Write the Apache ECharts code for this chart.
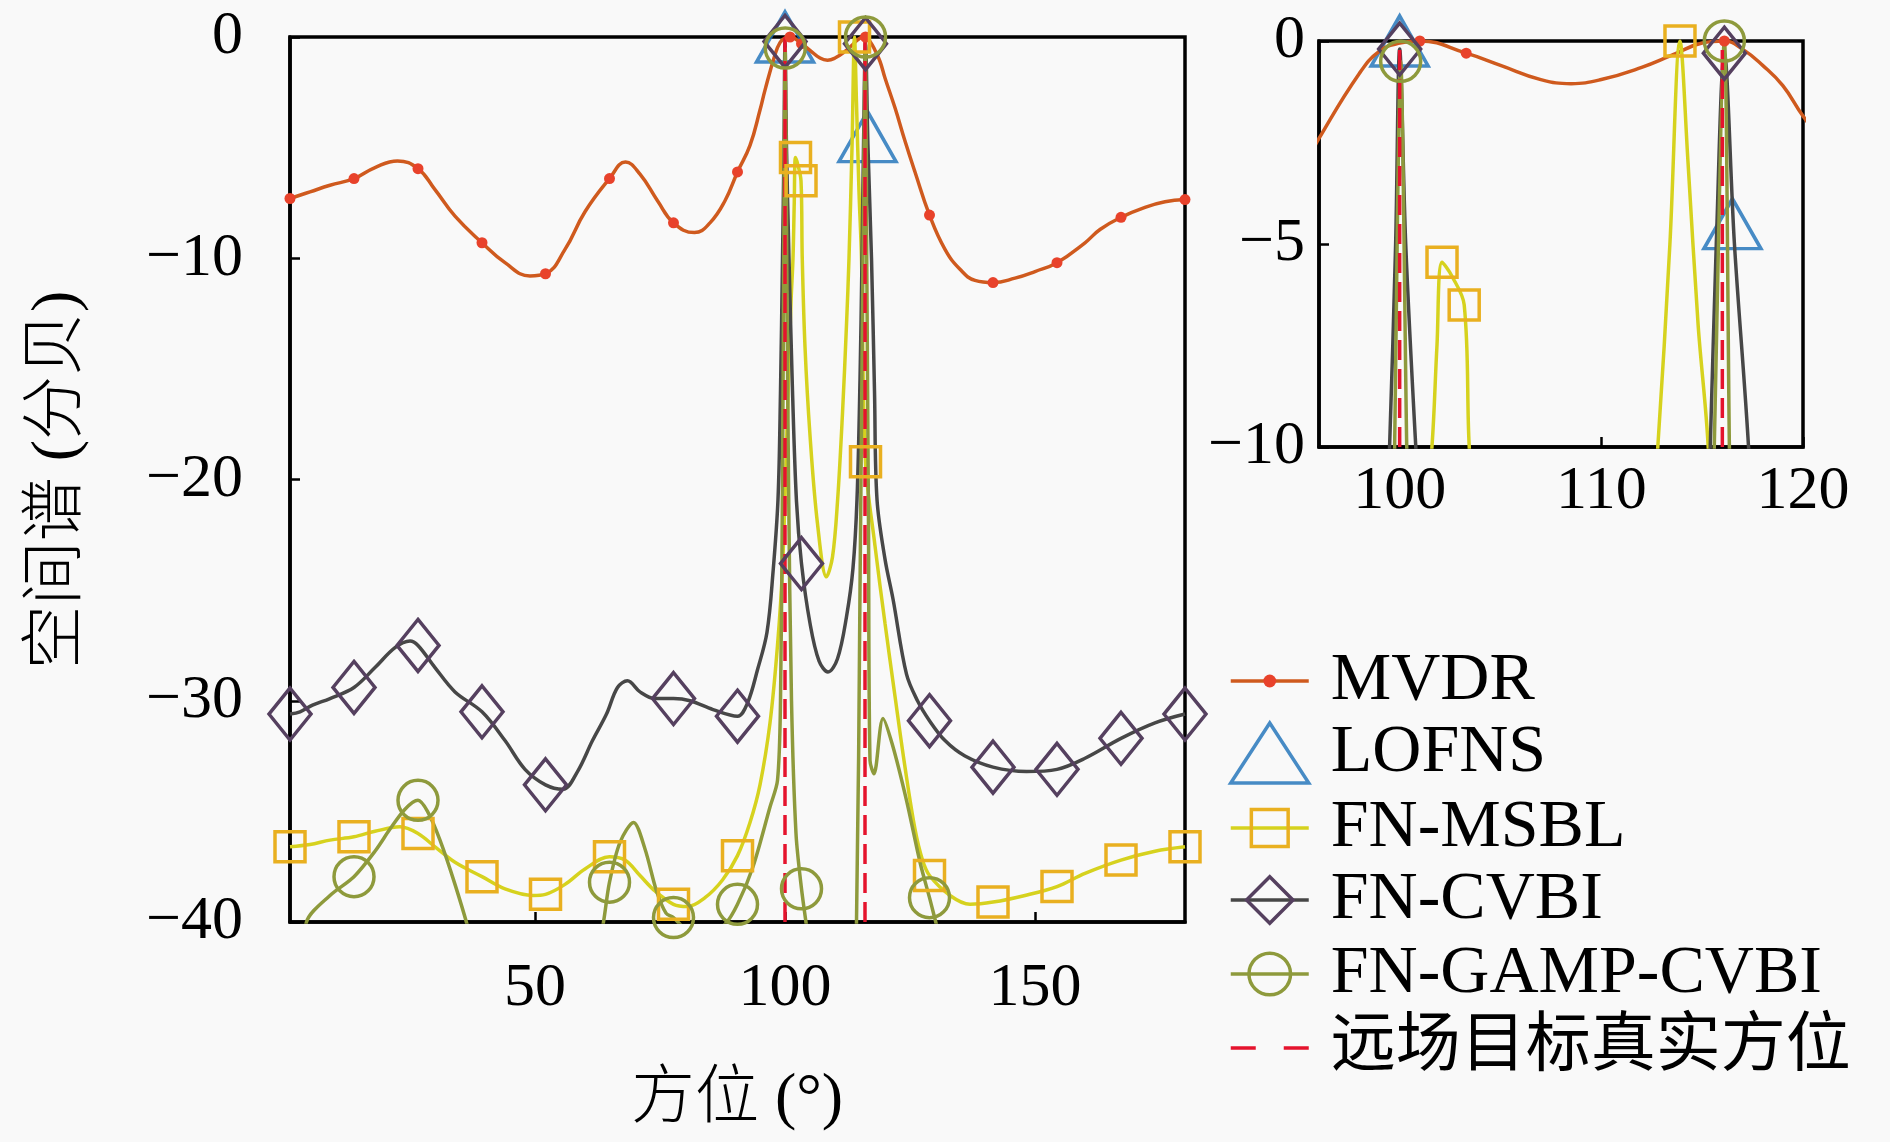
<!DOCTYPE html>
<html>
<head>
<meta charset="utf-8">
<script src="https://cdn.jsdelivr.net/npm/echarts@6/dist/echarts.min.js"></script>
<style>
  html, body { margin: 0; padding: 0; background: #f9f9f9; }
  #chart { width: 1890px; height: 1142px; }
</style>
</head>
<body>
<div id="chart"></div>
<script>
// azimuth (deg) / spatial spectrum (dB)
const mvdr = [
  [1, -7.3], [5, -7.0], [9, -6.7], [13.8, -6.4], [18, -5.9], [22.5, -5.6], [26.6, -5.95],
  [30, -6.9], [34, -8.1], [39.4, -9.3], [44, -10.2], [49, -10.8], [52.1, -10.7], [56, -9.6],
  [60, -7.9], [64.9, -6.4], [68.1, -5.65], [71, -6.2], [74.5, -7.4], [77.7, -8.4], [81.9, -8.84],
  [85, -8.4], [88, -7.4], [90.5, -6.1], [93, -4.9], [95, -3.3], [96, -2.4], [98, -0.8],
  [99, -0.25], [100, -0.05], [101, 0], [103.3, -0.3], [105, -0.6], [107, -0.95], [108.5, -1.05],
  [110, -0.95], [112, -0.65], [113.5, -0.35], [115, -0.05], [116.1, 0], [117, -0.2], [118, -0.6],
  [119, -1.1], [120, -1.85], [122, -3.2], [124, -4.7], [126, -6.1], [128.9, -8.05], [132, -9.6],
  [135, -10.5], [138, -11.0], [141.6, -11.1], [146, -10.9], [150, -10.6], [154.4, -10.2],
  [160, -9.3], [163, -8.7], [167.2, -8.15], [172, -7.7], [176, -7.45], [180, -7.35]
];
const lofns = [[100, 0], [116.5, -4.5]];
const msbl = [
  [1, -36.6], [5, -36.5], [9, -36.3], [13.8, -36.15], [18, -35.9], [23, -35.7], [26.6, -36.0],
  [30, -36.6], [34, -37.3], [39.4, -37.95], [44, -38.5], [49.6, -38.8], [52.1, -38.75], [56, -38.3],
  [60, -37.6], [64.9, -37.05], [68, -37.2], [71, -37.9], [74, -38.6], [77.7, -39.2], [80.5, -39.3],
  [84, -38.9], [87.5, -38.1], [90.5, -37.0], [93, -35.5], [95, -33.8], [97, -31], [98.5, -27.5],
  [99.5, -24], [100.5, -17], [101.2, -12], [101.6, -10], [101.85, -7.5], [102.1, -5.45],
  [102.6, -5.8], [103.2, -6.5], [103.45, -10], [104, -14], [105, -18], [106.5, -22], [108.3, -24.4],
  [109.5, -23.5], [110.5, -21], [111.5, -17], [112.3, -13], [112.8, -10], [113.4, -5], [113.9, 0],
  [114.3, -3], [114.8, -7], [115.3, -10], [116.1, -19.2], [118, -23], [120, -26.5], [122, -29.8],
  [124, -33], [126, -35.8], [127.5, -37.2], [128.9, -37.9], [133, -38.8], [137, -39.2],
  [141.6, -39.1], [148, -38.8], [154.4, -38.4], [160, -37.8], [167.2, -37.2], [174, -36.8], [180, -36.6]
];
const cvbi = [
  [1, -30.6], [3, -30.5], [5.5, -30.2], [9, -29.9], [13.8, -29.4], [18, -28.5], [22, -27.6],
  [25, -27.3], [26.6, -27.5], [30, -28.5], [34, -29.6], [39.4, -30.5], [44, -31.8], [48, -33.1],
  [52.1, -33.8], [55.6, -34.0], [58.5, -33.2], [61.5, -31.8], [64.3, -30.6], [66.5, -29.4],
  [68.5, -29.1], [71, -29.6], [74, -29.9], [77.7, -29.9], [81, -30.0], [85.6, -30.4], [90.5, -30.7],
  [92.5, -30.1], [94.5, -28.6], [96.4, -26.9], [97.6, -24.2], [98.6, -20.9], [99.1, -16],
  [99.5, -10], [99.8, -5], [100, -0.2], [100.3, -5], [100.8, -10], [101.5, -16], [102.3, -21],
  [103.3, -23.8], [105, -26.5], [106.8, -28.2], [108.6, -28.7], [110.5, -28.1], [112.3, -26.2],
  [113.6, -24], [114.4, -20.9], [115, -15.5], [115.4, -10], [115.7, -5], [116.1, -0.3],
  [116.6, -5], [117.3, -10], [117.9, -16], [118.4, -20.9], [120, -23.6], [121.6, -25.4],
  [124.3, -28.8], [126.5, -30.0], [128.9, -30.9], [132, -31.8], [136, -32.5], [141.6, -33.0],
  [148.3, -33.2], [154.4, -33.1], [160, -32.6], [167.2, -31.7], [174, -31.0], [180, -30.6]
];
const gamp = [
  [1, -45], [4.3, -40], [9, -38.8], [13.8, -37.95], [18, -36.8], [21, -35.8], [24, -34.9],
  [26.6, -34.5], [28.5, -35.0], [31, -36.3], [34, -38.3], [37, -40.6], [39.4, -43], [45, -49],
  [52.1, -50], [58, -46], [62, -42], [63.7, -40], [64.9, -38.2], [67, -36.4], [69.7, -35.5],
  [72, -36.7], [74.3, -38.6], [76.2, -39.6], [77.7, -39.8], [80, -40.3], [84, -40.6], [88, -40.1],
  [90.5, -39.2], [93.6, -37.5], [97, -34.8], [98.5, -33.6], [99.1, -30], [99.5, -20], [99.75, -10],
  [100.05, -0.5], [100.35, -10], [100.7, -20], [101.3, -30], [102.2, -36], [103.3, -38.5],
  [104.5, -40.5], [106, -43], [110, -45], [113.5, -42], [114.3, -40], [115, -25], [115.6, -10],
  [116.1, 0], [116.35, -10], [116.7, -22], [117, -32.7], [117.8, -33.3], [119.6, -30.8],
  [121.5, -32], [124.3, -34.5], [127, -37.3], [128.9, -38.9], [130.5, -40.3], [135, -44],
  [141.6, -47], [150, -48], [160, -47], [170, -46], [180, -45]
];
const trueAngles = [100, 116];

// where markers sit on each curve (main plot / zoomed inset)
const mvdrMarks = [1, 13.8, 26.6, 39.4, 52.1, 64.9, 77.7, 90.5, 101, 103.3, 116.1, 128.9, 141.6, 154.4, 167.2, 180];
const mvdrInsetMarks = [101, 103.3, 116.1];
const msblMarks = [1, 13.8, 26.6, 39.4, 52.1, 64.9, 77.7, 90.5, 102.1, 103.2, 113.9, 116.1, 128.9, 141.6, 154.4, 167.2, 180];
const msblInsetMarks = [102.1, 103.2, 113.9];
const cvbiMarks = [1, 13.8, 26.6, 39.4, 52.1, 64.9, 77.7, 90.5, 100, 103.3, 116.1, 128.9, 141.6, 154.4, 167.2, 180];
const cvbiInsetMarks = [100, 116.1];
const gampMarks = [1, 13.8, 26.6, 39.4, 52.1, 64.9, 77.7, 90.5, 100.05, 103.3, 116.1, 128.9, 141.6];
const gampInsetMarks = [100.05, 116.1];

const xTicks = [50, 100, 150];
const insetXTicks = [100, 110, 120];

const FONT = "'Liberation Serif', 'Noto Sans CJK SC', serif";
const LW = 3.5;
const minus = v => String(v).replace('-', '\u2212');

const mvdrStyle = { symbol: 'circle', symbolSize: 11, smooth: 0.45, line: '#cf5a1e', item: { color: '#e8422b' } };
const msblStyle = { symbol: 'rect', symbolSize: 30, smooth: 0.35, line: '#d6d21e', item: { color: 'rgba(0,0,0,0)', borderColor: '#e9b020', borderWidth: LW } };
const cvbiStyle = { symbol: 'diamond', symbolSize: [42, 52], smooth: 0.35, line: '#474747', item: { color: 'rgba(0,0,0,0)', borderColor: '#55405f', borderWidth: LW } };
const gampStyle = { symbol: 'circle', symbolSize: 40, smooth: 0.3, line: '#8e9a3c', item: { color: 'rgba(0,0,0,0)', borderColor: '#8e9a3c', borderWidth: LW } };

function curve(name, pts, marks, st, axis) {
  return {
    name, type: 'line', xAxisIndex: axis, yAxisIndex: axis,
    data: pts.map(p => marks.includes(p[0]) ? { value: p } : { value: p, symbol: 'none' }),
    symbol: st.symbol, symbolSize: st.symbolSize,
    showSymbol: true, showAllSymbol: true, smooth: st.smooth, clip: true,
    lineStyle: { color: st.line, width: LW },
    itemStyle: st.item,
    emphasis: { disabled: true }
  };
}

function seriesFor(axis, inset) {
  const list = [
    curve('MVDR', mvdr, inset ? mvdrInsetMarks : mvdrMarks, mvdrStyle, axis),
    {
      name: 'LOFNS', type: 'scatter', xAxisIndex: axis, yAxisIndex: axis, data: lofns,
      symbol: 'triangle', symbolSize: [57, 50], clip: true,
      itemStyle: { color: 'rgba(0,0,0,0)', borderColor: '#1a6fb8', borderWidth: LW },
      emphasis: { disabled: true }
    },
    curve('FN-MSBL', msbl, inset ? msblInsetMarks : msblMarks, msblStyle, axis),
    curve('FN-CVBI', cvbi, inset ? cvbiInsetMarks : cvbiMarks, cvbiStyle, axis),
    curve('FN-GAMP-CVBI', gamp, inset ? gampInsetMarks : gampMarks, gampStyle, axis)
  ];
  trueAngles.forEach(a => {
    list.push({
      name: '远场目标真实方位', type: 'line', xAxisIndex: axis, yAxisIndex: axis,
      data: [[a, -40], [a, 0]], symbol: 'none', clip: true,
      lineStyle: { color: '#e5132d', width: LW, type: [20, 9] },
      emphasis: { disabled: true }
    });
  });
  return list;
}

function legendRow(name, centerY, h, size, extra) {
  const textH = 68;
  return Object.assign({
    data: [name], orient: 'vertical', left: 1229, top: centerY - Math.max(h, textH) / 2,
    padding: 0, itemWidth: 78, itemHeight: h, selectedMode: false,
    textStyle: { fontFamily: FONT, fontSize: size, lineHeight: textH, color: '#000', padding: [0, 0, 0, 17] },
    itemStyle: { borderWidth: LW },
    lineStyle: { width: LW }
  }, extra || {});
}

const tickLabel = { fontFamily: FONT, fontSize: 62, color: '#000' };
const axisLine = { show: true, onZero: false, lineStyle: { color: '#000', width: 3.5 } };
const tick = { inside: true, length: 10, lineStyle: { color: '#000', width: 2.5 } };

const chart = echarts.init(document.getElementById('chart'), null, { renderer: 'canvas' });
chart.setOption({
  backgroundColor: '#f9f9f9',
  animation: false,
  grid: [
    { left: 290, top: 37, width: 895, height: 885, show: true, borderColor: '#000', borderWidth: 3.5, backgroundColor: 'transparent' },
    { left: 1319, top: 41, width: 484, height: 406, show: true, borderColor: '#000', borderWidth: 3.5, backgroundColor: 'transparent' }
  ],
  xAxis: [
    {
      type: 'value', gridIndex: 0, min: 1, max: 180,
      axisLine, splitLine: { show: false },
      axisTick: Object.assign({ customValues: xTicks }, tick),
      axisLabel: Object.assign({ customValues: xTicks, margin: 36 }, tickLabel)
    },
    {
      type: 'value', gridIndex: 1, min: 96, max: 120,
      axisLine, splitLine: { show: false },
      axisTick: Object.assign({ customValues: insetXTicks }, tick),
      axisLabel: Object.assign({ customValues: insetXTicks, margin: 14 }, tickLabel)
    }
  ],
  yAxis: [
    {
      type: 'value', gridIndex: 0, min: -40, max: 0, interval: 10,
      axisLine, splitLine: { show: false }, axisTick: tick,
      axisLabel: Object.assign({ margin: 47, formatter: minus }, tickLabel)
    },
    {
      type: 'value', gridIndex: 1, min: -10, max: 0, interval: 5,
      axisLine, splitLine: { show: false }, axisTick: tick,
      axisLabel: Object.assign({ margin: 14, formatter: minus }, tickLabel)
    }
  ],
  legend: [
    legendRow('MVDR', 681, 16, 68, { itemStyle: { borderWidth: 0 } }),
    legendRow('LOFNS', 753, 60, 68),
    legendRow('FN-MSBL', 828, 46, 68),
    legendRow('FN-CVBI', 900, 58, 68),
    legendRow('FN-GAMP-CVBI', 974, 52, 68),
    legendRow('远场目标真实方位', 1048, 20, 65, { itemStyle: { opacity: 0 }, lineStyle: { width: LW, type: [25, 28] } })
  ],
  graphic: [
    {
      type: 'text', x: 58, y: 480, rotation: Math.PI / 2,
      style: { text: '空间谱 (分贝)', fontFamily: FONT, fontSize: 64, fontWeight: 300, fill: '#000', align: 'center', verticalAlign: 'middle', textAlign: 'center', textVerticalAlign: 'middle' }
    },
    {
      type: 'text', x: 737, y: 1100,
      style: { text: '方位 (°)', fontFamily: FONT, fontSize: 64, fontWeight: 300, fill: '#000', align: 'center', verticalAlign: 'middle', textAlign: 'center', textVerticalAlign: 'middle' }
    }
  ],
  series: seriesFor(0, false).concat(seriesFor(1, true))
});
</script>
</body>
</html>
